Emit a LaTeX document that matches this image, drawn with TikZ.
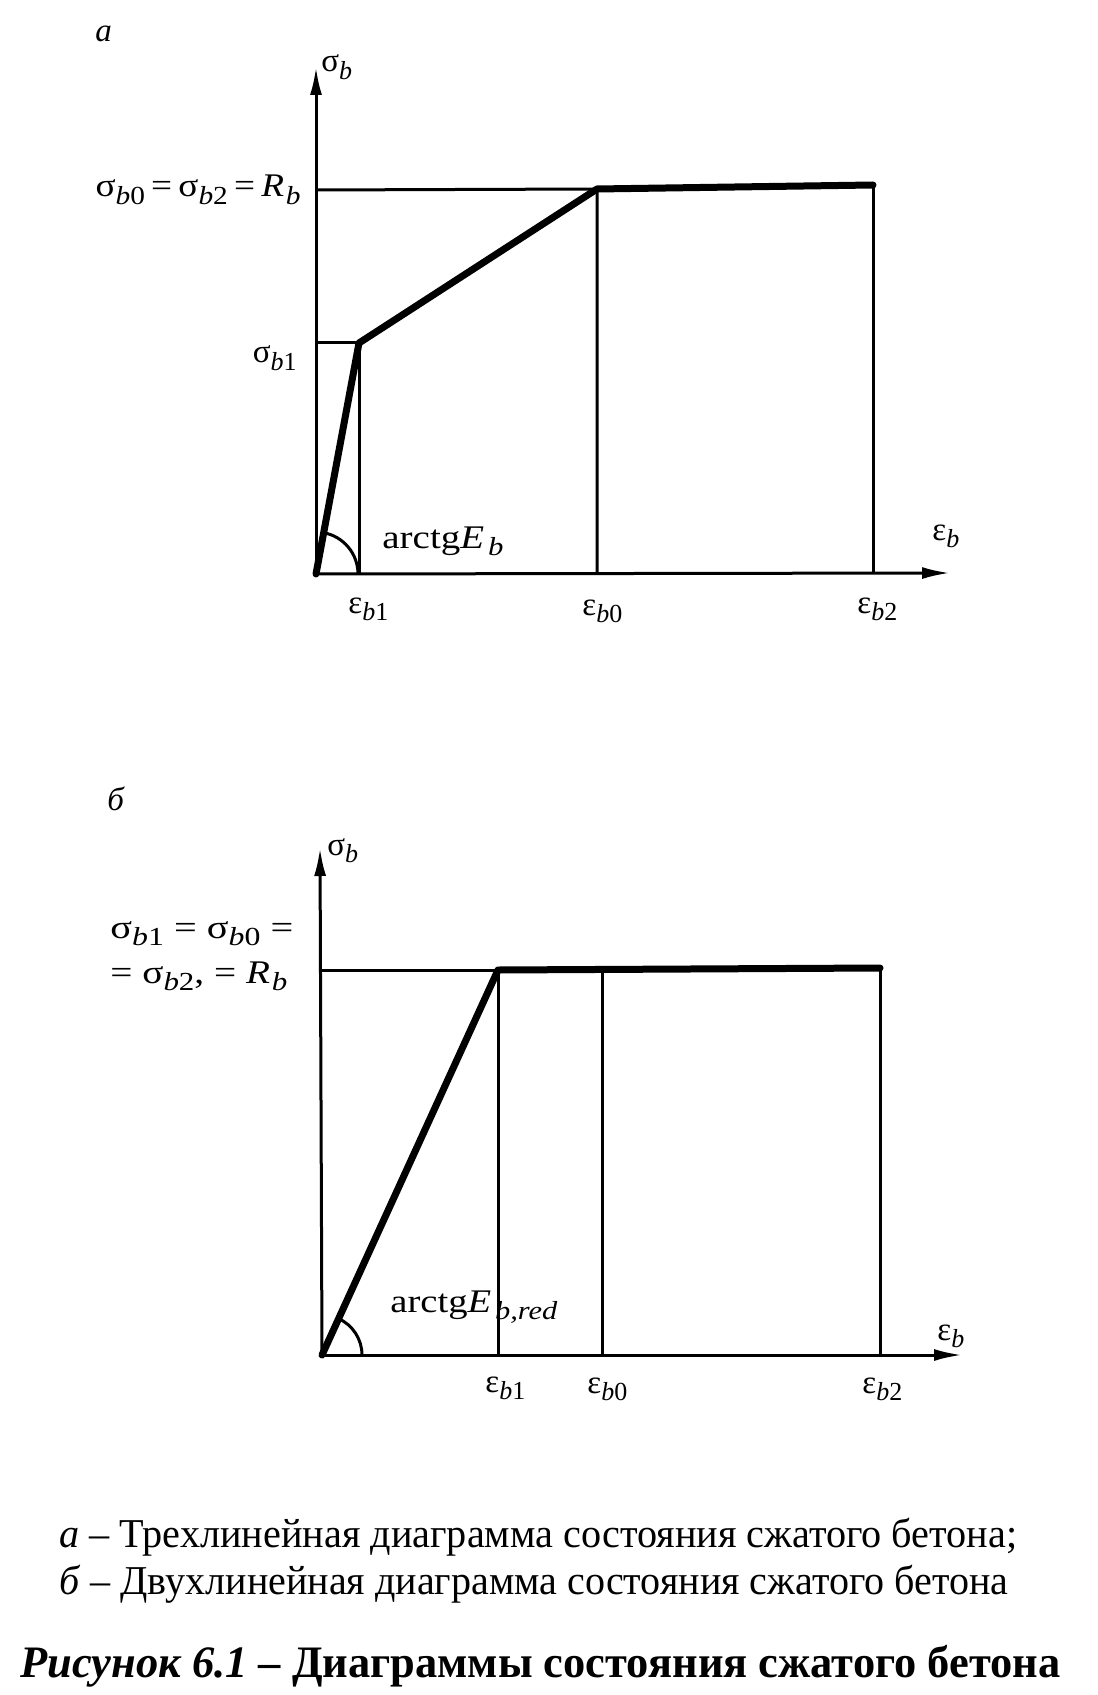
\documentclass[tikz,border=0pt]{standalone}
\usepackage{fontspec}
\usepackage{graphicx}
\setmainfont{Liberation Serif}
\usetikzlibrary{arrows.meta,calc}
\newcommand\sbs[1]{\raisebox{-0.22em}{\fontsize{13}{14}\selectfont #1}}
\newcommand\fitw[2]{\resizebox{#1}{\height}{#2}}
\begin{document}
\begin{tikzpicture}[x=0.5pt,y=-0.5pt,
  thinline/.style={line width=1.5pt},
  thickline/.style={line width=3.5pt,line join=round,line cap=round},
  axis/.style={line width=1.5pt,-{Latex[length=14pt,width=6pt]}},
  lbl/.style={inner sep=0pt,font=\fontsize{16.5}{19}\selectfont},
  captxt/.style={inner sep=0pt,font=\fontsize{20.5}{23}\selectfont},
  captxtb/.style={inner sep=0pt,font=\fontsize{22.5}{26}\selectfont\bfseries}]
\useasboundingbox (0,0) rectangle (1097,1695);
% ---------- diagram a ----------
\coordinate (O1) at (316,574);
\coordinate (Y1) at (316,67);
\coordinate (X1) at (950,573);
\coordinate (P1) at (359,343);
\coordinate (S1) at (316,343);
\coordinate (E1) at (359,574);
\coordinate (P0) at (597,189);
\coordinate (S0) at (316,190);
\coordinate (E0) at (597,574);
\coordinate (P2) at (873,185);
\coordinate (E2) at (873,573);
\draw[axis] (O1) -- (Y1);
\draw[axis] (O1) -- (X1);
\draw[thinline] (S1) -- (P1) -- (E1);
\draw[thinline] (S0) -- (P0) -- (E0);
\draw[thinline] (P2) -- (E2);
\draw[thickline] (O1) -- (P1) -- (P0) -- (P2);
\draw[thinline] ($(O1)+(42,0)$) arc[start angle=0,end angle=80,radius=21pt];
\node[lbl,anchor=base west] (la) at (95,42) {\textit{а}};
\node[lbl,anchor=base west] (sa) at (321,72) {σ\sbs{\textit{b}}};
\node[lbl,anchor=base east] (ra) at (301,197) {\fitw{102.5pt}{σ\sbs{\textit{b}0}\,=\,σ\sbs{\textit{b}2}\,=\,\textit{R}\kern0.05em\sbs{\textit{b}}}};
\node[lbl,anchor=base east] (s1a) at (297,363) {σ\sbs{\textit{b}1}};
\node[lbl,anchor=base west] (ea) at (382,548) {\fitw{60.5pt}{arctg\textit{E}\kern0.1em\sbs{\textit{b}}}};
\node[lbl,anchor=base west] (e1a) at (348,613) {ε\sbs{\textit{b}1}};
\node[lbl,anchor=base west] (e0a) at (582,615) {ε\sbs{\textit{b}0}};
\node[lbl,anchor=base west] (e2a) at (857,613) {ε\sbs{\textit{b}2}};
\node[lbl,anchor=base west] (exa) at (932,540) {ε\sbs{\textit{b}}};
% ---------- diagram b ----------
\coordinate (O2) at (322,1355);
\coordinate (Y2) at (320,848);
\coordinate (X2) at (962,1355);
\coordinate (Q1) at (498,970);
\coordinate (T1) at (320,970);
\coordinate (F1) at (498,1355);
\coordinate (Q0) at (602,970);
\coordinate (F0) at (602,1355);
\coordinate (Q2) at (880,968);
\coordinate (F2) at (880,1355);
\draw[axis] (O2) -- (Y2);
\draw[axis] (O2) -- (X2);
\draw[thinline] (T1) -- (Q1) -- (F1);
\draw[thinline] (Q0) -- (F0);
\draw[thinline] (Q2) -- (F2);
\draw[thickline] (O2) -- (Q1) -- (Q2);
\draw[thinline] ($(O2)+(40,0)$) arc[start angle=0,end angle=66,radius=20pt];
\node[lbl,anchor=base west] (lb) at (107,810) {\textit{б}};
\node[lbl,anchor=base west] (sb) at (327,855) {σ\sbs{\textit{b}}};
\node[lbl,anchor=base west] (rb1) at (110,938) {\fitw{91.5pt}{σ\sbs{\textit{b}1} = σ\sbs{\textit{b}0} =}};
\node[lbl,anchor=base west] (rb2) at (110,983) {\fitw{88.5pt}{= σ\sbs{\textit{b}2}, = \textit{R}\kern0.05em\sbs{\textit{b}}}};
\node[lbl,anchor=base west] (eb) at (390,1312) {\fitw{83.5pt}{arctg\textit{E}\kern0.1em\sbs{\textit{b,red}}}};
\node[lbl,anchor=base west] (e1b) at (485,1392) {ε\sbs{\textit{b}1}};
\node[lbl,anchor=base west] (e0b) at (587,1393) {ε\sbs{\textit{b}0}};
\node[lbl,anchor=base west] (e2b) at (862,1393) {ε\sbs{\textit{b}2}};
\node[lbl,anchor=base west] (exb) at (937,1340) {ε\sbs{\textit{b}}};
% ---------- caption ----------
\node[captxt,anchor=base west] (c1) at (59,1547) {\fitw{479pt}{\textit{а} – Трехлинейная диаграмма состояния сжатого бетона;}};
\node[captxt,anchor=base west] (c2) at (59,1594) {\fitw{474.5pt}{\textit{б} – Двухлинейная диаграмма состояния сжатого бетона}};
\node[captxtb,anchor=base west] (c3) at (20,1677) {\fitw{520pt}{\textit{Рисунок 6.1} – Диаграммы состояния сжатого бетона}};
\end{tikzpicture}
\end{document}
